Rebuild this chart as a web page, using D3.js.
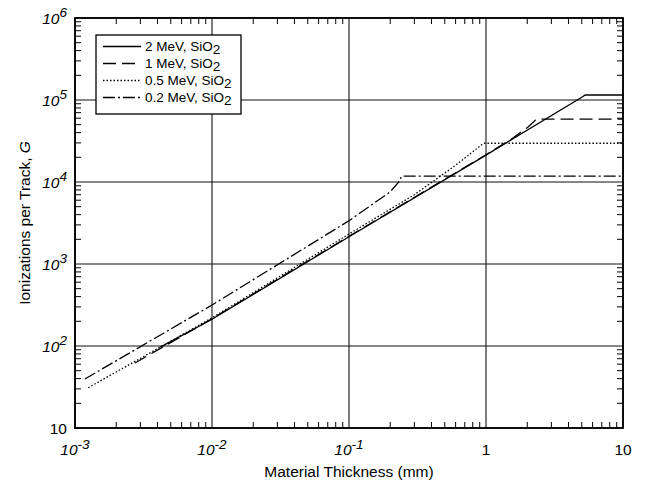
<!DOCTYPE html>
<html><head><meta charset="utf-8">
<script src="https://cdn.jsdelivr.net/npm/d3@7"></script>
<style>body{margin:0;background:#fff}svg{display:block;font-family:"Liberation Sans",Arial,sans-serif}</style>
</head><body>
<svg id="c" width="648" height="485"></svg>
<script>
// Data (thickness in mm, ionizations per track)
const seriesNames = ["2 MeV, SiO", "1 MeV, SiO", "0.5 MeV, SiO", "0.2 MeV, SiO"];
const thick2MeV = [4.2e-3, 0.01, 0.1, 1, 5.0, 5.3, 10];
const ion2MeV   = [97, 212, 2150, 21300, 108000, 115000, 115000];
const thick1MeV = [2.74e-3, 0.01, 0.1, 1, 1.5, 2.0, 2.3, 2.42, 10];
const ion1MeV   = [62, 215, 2180, 21500, 32500, 46000, 57000, 58600, 58600];
const thick05MeV = [1.25e-3, 0.01, 0.1, 0.3, 0.6, 0.93, 0.97, 10];
const ion05MeV   = [31, 220, 2320, 7000, 16000, 28500, 29700, 29700];
const thick02MeV = [1.18e-3, 0.01, 0.1, 0.2, 0.232, 0.242, 10];
const ion02MeV   = [39.6, 316, 3370, 7600, 10100, 11800, 11800];
const xTickExps = [-3, -2, -1, 0, 1];
const yTickExps = [1, 2, 3, 4, 5, 6];
const dashes = [null, "13,6", "1.5,2", "12,3,2,3"];

const svg = d3.select("#c");
const L = 75, R = 623, T = 18, B = 428;
const x = d3.scaleLog().domain([1e-3, 10]).range([L, R]);
const y = d3.scaleLog().domain([10, 1e6]).range([B, T]);

// gridlines at decades
const g = svg.append("g");
xTickExps.forEach(e => {
  const v = Math.pow(10, e);
  g.append("line").attr("x1", x(v)).attr("x2", x(v)).attr("y1", T).attr("y2", B)
    .attr("stroke", "#111").attr("stroke-width", 1.1);
});
yTickExps.forEach(e => {
  const v = Math.pow(10, e);
  g.append("line").attr("x1", L).attr("x2", R).attr("y1", y(v)).attr("y2", y(v))
    .attr("stroke", "#111").attr("stroke-width", 1.1);
});

// minor ticks on all four sides
const minorX = [], minorY = [];
for (let e = -3; e < 1; e++) for (let m = 2; m <= 9; m++) minorX.push(m * Math.pow(10, e));
for (let e = 1; e < 6; e++) for (let m = 2; m <= 9; m++) minorY.push(m * Math.pow(10, e));
const tl = 6;
minorX.forEach(v => {
  g.append("line").attr("x1", x(v)).attr("x2", x(v)).attr("y1", B).attr("y2", B - tl).attr("stroke", "#000");
  g.append("line").attr("x1", x(v)).attr("x2", x(v)).attr("y1", T).attr("y2", T + tl).attr("stroke", "#000");
});
minorY.forEach(v => {
  g.append("line").attr("x1", L).attr("x2", L + tl).attr("y1", y(v)).attr("y2", y(v)).attr("stroke", "#000");
  g.append("line").attr("x1", R).attr("x2", R - tl).attr("y1", y(v)).attr("y2", y(v)).attr("stroke", "#000");
});

// frame
svg.append("rect").attr("x", L).attr("y", T).attr("width", R - L).attr("height", B - T)
  .attr("fill", "none").attr("stroke", "#000").attr("stroke-width", 1.8);

// data lines
const data = [
  thick2MeV.map((t, i) => [t, ion2MeV[i]]),
  thick1MeV.map((t, i) => [t, ion1MeV[i]]),
  thick05MeV.map((t, i) => [t, ion05MeV[i]]),
  thick02MeV.map((t, i) => [t, ion02MeV[i]])
];
const line = d3.line().x(d => x(d[0])).y(d => y(d[1]));
svg.append("clipPath").attr("id", "pc").append("rect")
  .attr("x", L).attr("y", T).attr("width", R - L).attr("height", B - T);
data.forEach((d, i) => {
  svg.append("path").attr("d", line(d)).attr("fill", "none").attr("stroke", "#000")
    .attr("stroke-width", 1.3).attr("stroke-dasharray", dashes[i]).attr("clip-path", "url(#pc)");
});

// tick labels
xTickExps.forEach(e => {
  const v = Math.pow(10, e);
  const t = svg.append("text").attr("x", x(v)).attr("y", 455).attr("text-anchor", "middle")
    .attr("font-size", 15.5);
  if (e === 0) t.text("1");
  else if (e === 1) t.text("10");
  else {
    t.attr("font-style", "italic");
    t.append("tspan").text("10");
    t.append("tspan").attr("dy", -6).attr("font-size", 13.5).text(String(e));
  }
});
yTickExps.forEach(e => {
  const v = Math.pow(10, e);
  const t = svg.append("text").attr("x", 67).attr("y", y(v) + 6).attr("text-anchor", "end")
    .attr("font-size", 15.5);
  if (e === 1) t.text("10");
  else {
    t.attr("font-style", "italic");
    t.append("tspan").text("10");
    t.append("tspan").attr("dy", -7).attr("font-size", 13.5).text(String(e));
  }
});

// axis titles
svg.append("text").attr("x", (L + R) / 2).attr("y", 477).attr("text-anchor", "middle")
  .attr("font-size", 15.5).text("Material Thickness (mm)");
const yt = svg.append("text").attr("transform", `translate(30,${(T + B) / 2}) rotate(-90)`)
  .attr("text-anchor", "middle").attr("font-size", 15.5);
yt.append("tspan").text("Ionizations per Track, ");
yt.append("tspan").attr("font-style", "italic").text("G");

// legend
const lg = svg.append("g");
lg.append("rect").attr("x", 96).attr("y", 35).attr("width", 145).attr("height", 79)
  .attr("fill", "#fff").attr("stroke", "#000").attr("stroke-width", 1.3);
seriesNames.forEach((n, i) => {
  const yy = 46.5 + i * 17;
  lg.append("line").attr("x1", 103).attr("x2", 141).attr("y1", yy).attr("y2", yy)
    .attr("stroke", "#000").attr("stroke-width", 1.3).attr("stroke-dasharray", dashes[i]);
  const t = lg.append("text").attr("x", 145).attr("y", yy + 4.5).attr("font-size", 13.5);
  t.append("tspan").text(n);
  t.append("tspan").attr("dy", 3).attr("font-size", 13.5).text("2");
});
</script>
</body></html>
